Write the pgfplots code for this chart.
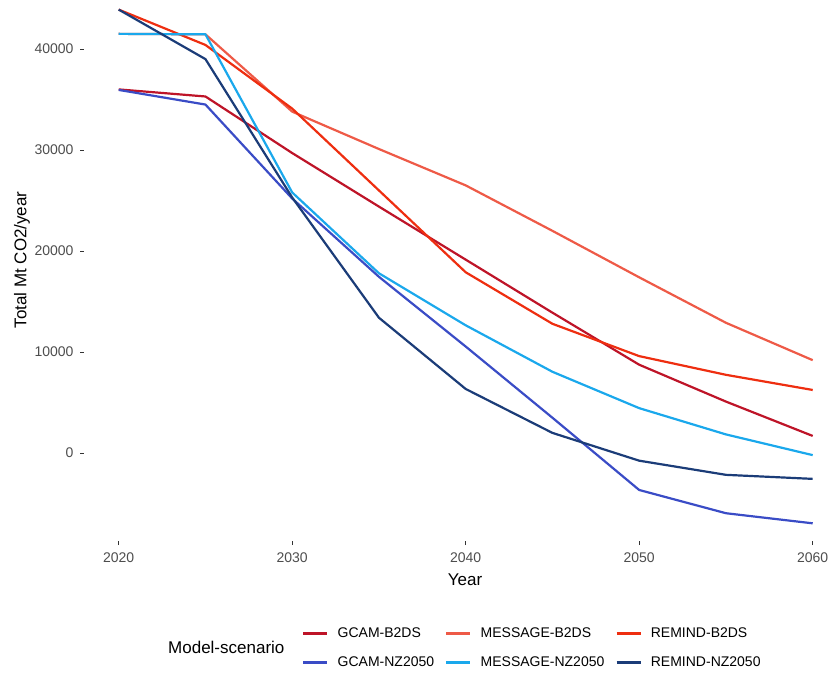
\documentclass[border=0pt]{standalone}
\usepackage{fontspec}
\setmainfont{Liberation Sans}
\usepackage{pgfplots}
\pgfplotsset{compat=1.18}

\definecolor{gcamB}{RGB}{190,20,40}
\definecolor{messB}{RGB}{238,90,71}
\definecolor{remB}{RGB}{238,46,16}
\definecolor{gcamN}{RGB}{58,76,198}
\definecolor{messN}{RGB}{26,168,236}
\definecolor{remN}{RGB}{27,60,120}
\definecolor{tickgrey}{RGB}{77,77,77}
\definecolor{tickmark}{RGB}{51,51,51}

\newcommand{\ticksize}{\fontsize{14}{16}\selectfont}
\newcommand{\titlesize}{\fontsize{17}{20}\selectfont}

\begin{document}
\begin{tikzpicture}
\begin{axis}[
  scale only axis,
  width=745pt, height=541pt,
  xmin=2018, xmax=2060.94,
  ymin=-8700, ymax=44850,
  axis line style={draw=none},
  xtick={2020,2030,2040,2050,2060},
  ytick={0,10000,20000,30000,40000},
  scaled y ticks=false,
  scaled x ticks=false,
  xtick pos=bottom, ytick pos=left,
  tick align=outside,
  major tick length=4pt,
  tick style={tickmark, line width=0.8pt},
  /pgf/number format/assume math mode=true,
  /pgf/number format/1000 sep={},
  xticklabel style={font=\ticksize, text=tickgrey, yshift=-4pt},
  yticklabel style={font=\ticksize, text=tickgrey, xshift=-3pt},
  clip=false,
  legend columns=3,
  legend style={
    at={(0.2926,-0.1562)}, anchor=north west,
    draw=none, fill=none, inner sep=0pt,
    font=\ticksize,
    row sep=14pt,
    /tikz/every odd column/.append style={column sep=7pt},
    /tikz/every even column/.append style={column sep=9pt},
  },
  legend cell align=left,
  legend image code/.code={
    \draw[#1, line width=2.5pt] (0pt,0pt) -- (24pt,0pt);
  },
  every axis plot/.append style={line width=2.2pt, line join=round},
]
\addplot[gcamB] coordinates {
  (2020,36000) (2025,35300) (2030,29700) (2035,24400) (2040,19150)
  (2045,13900) (2050,8750) (2055,5100) (2060,1700)};
\addlegendentry{GCAM-B2DS}
\addplot[messB] coordinates {
  (2020,41500) (2025,41450) (2030,33800) (2035,30100) (2040,26500)
  (2045,22000) (2050,17400) (2055,12900) (2060,9200)};
\addlegendentry{MESSAGE-B2DS}
\addplot[remB] coordinates {
  (2020,43900) (2025,40400) (2030,34100) (2035,26000) (2040,17900)
  (2045,12800) (2050,9600) (2055,7750) (2060,6250)};
\addlegendentry{REMIND-B2DS}
\addplot[gcamN] coordinates {
  (2020,35950) (2025,34500) (2030,25200) (2035,17450) (2040,10550)
  (2045,3500) (2050,-3650) (2055,-5950) (2060,-6950)};
\addlegendentry{GCAM-NZ2050}
\addplot[messN] coordinates {
  (2020,41500) (2025,41450) (2030,25800) (2035,17800) (2040,12650)
  (2045,8050) (2050,4450) (2055,1850) (2060,-200)};
\addlegendentry{MESSAGE-NZ2050}
\addplot[remN] coordinates {
  (2020,43900) (2025,39000) (2030,25300) (2035,13400) (2040,6350)
  (2045,2000) (2050,-750) (2055,-2150) (2060,-2550)};
\addlegendentry{REMIND-NZ2050}
\end{axis}
% axis titles and legend title
\node[font=\titlesize] at (381pt,-39pt) {Year};
\node[font=\titlesize, rotate=90] at (-62pt,281pt) {Total Mt CO2/year};
\node[font=\titlesize, anchor=west, inner sep=0pt] at (84pt,-106pt) {Model-scenario};
% page frame
\pgfresetboundingbox
\path (-84pt,-132pt) rectangle (745pt,541pt);
\end{tikzpicture}
\end{document}
